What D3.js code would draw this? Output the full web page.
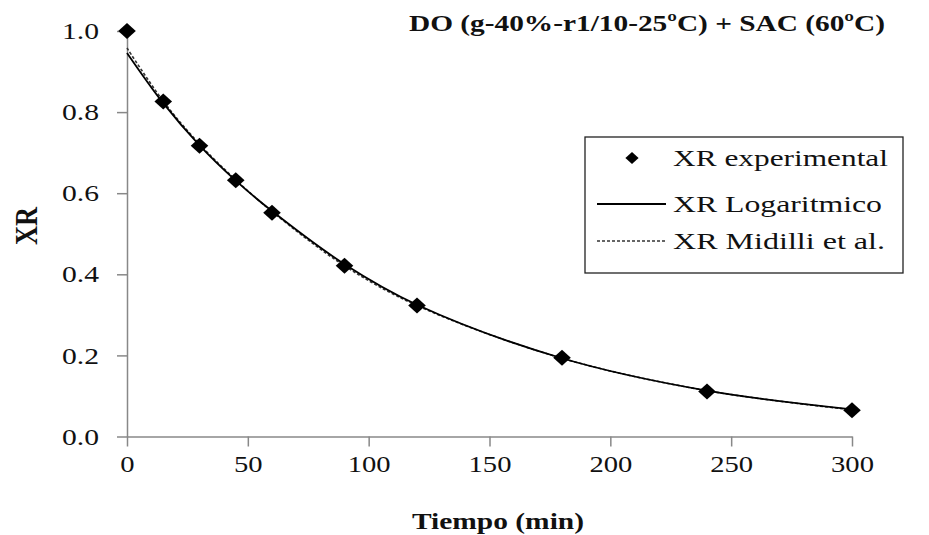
<!DOCTYPE html>
<html><head><meta charset="utf-8">
<script src="https://cdn.jsdelivr.net/npm/d3@7/dist/d3.min.js"></script>
<style>body{margin:0;background:#fff}svg{display:block}</style>
</head><body>
<svg id="c" width="929" height="535"></svg>
<script>
const times = [0, 15, 30, 45, 60, 90, 120, 180, 240, 300];
const xrExperimental = [1.0, 0.826, 0.717, 0.632, 0.552, 0.421, 0.323, 0.194, 0.111, 0.065];
const xrLogaritmico = [0.946, 0.822, 0.718, 0.631, 0.556, 0.425, 0.325, 0.193, 0.113, 0.067];
const xrMidilli = [0.958, 0.827, 0.721, 0.633, 0.555, 0.421, 0.323, 0.193, 0.113, 0.066];
const xTicks = [0, 50, 100, 150, 200, 250, 300];
const yTicks = [0.0, 0.2, 0.4, 0.6, 0.8, 1.0];
const titleText = "DO (g-40%-r1/10-25ºC)  + SAC (60ºC)";
const xLabel = "Tiempo (min)";
const yLabel = "XR";
const legendLabels = ["XR experimental", "XR Logaritmico", "XR Midilli et al."];

// pick an installed Times-like font
function hasFont(name) {
  const c = document.createElement("canvas").getContext("2d");
  const s = "XR experimental 0123456789";
  c.font = "40px monospace"; const a = c.measureText(s).width;
  c.font = `40px '${name}', monospace`; const b = c.measureText(s).width;
  return Math.abs(a - b) > 0.5;
}
const candidates = ["Liberation Serif", "Times New Roman", "Tinos", "Nimbus Roman", "DejaVu Serif"];
const serifName = candidates.find(hasFont) || "serif";
const serif = `'${serifName}', serif`;

const svg = d3.select("#c");
const x = d3.scaleLinear().domain([0, 300]).range([127, 852]);
const y = d3.scaleLinear().domain([0, 1]).range([436.5, 31]);
const labelWidth = s => s.split("").reduce((w, ch) => w + (ch === "." ? 8.4 : 14.3), 0);

// axes
const gx = svg.append("g").attr("transform", "translate(0,436.5)")
  .call(d3.axisBottom(x).tickValues(xTicks).tickFormat(d3.format("d")).tickSize(10).tickSizeOuter(0).tickPadding(8));
const gy = svg.append("g").attr("transform", "translate(127,0)")
  .call(d3.axisLeft(y).tickValues(yTicks).tickFormat(d3.format(".1f")).tickSize(10).tickSizeOuter(0).tickPadding(18));
[gx, gy].forEach(g => {
  g.select(".domain").attr("stroke", "#888").attr("stroke-width", 1.5);
  g.selectAll(".tick line").attr("stroke", "#888").attr("stroke-width", 1.5);
  g.selectAll(".tick text").attr("fill", "#111").attr("font-family", serif).attr("font-size", 24)
    .attr("textLength", function () { return labelWidth(this.textContent); })
    .attr("lengthAdjust", "spacingAndGlyphs");
});

// lines
const pts = arr => times.map((t, i) => [t, arr[i]]);
const line = d3.line().x(d => x(d[0])).y(d => y(d[1])).curve(d3.curveCatmullRom);
svg.append("path").attr("d", line(pts(xrMidilli))).attr("fill", "none")
  .attr("stroke", "#333").attr("stroke-width", 1.6).attr("stroke-dasharray", "3,2");
svg.append("path").attr("d", line(pts(xrLogaritmico))).attr("fill", "none")
  .attr("stroke", "#000").attr("stroke-width", 1.8);

// markers
const diamond = (s) => `M0,${-s}L${s*1.1},0L0,${s}L${-s*1.1},0Z`;
svg.append("g").selectAll("path").data(pts(xrExperimental)).join("path")
  .attr("transform", d => `translate(${x(d[0])},${y(d[1])})`)
  .attr("d", diamond(8)).attr("fill", "#000");

// title
svg.append("text").attr("x", 409).attr("y", 31).attr("font-family", serif)
  .attr("font-weight", "bold").attr("font-size", 24).attr("fill", "#111")
  .attr("textLength", 476).attr("lengthAdjust", "spacingAndGlyphs").text(titleText);

// x label
svg.append("text").attr("x", 412).attr("y", 529).attr("font-family", serif)
  .attr("font-weight", "bold").attr("font-size", 24).attr("fill", "#111")
  .attr("textLength", 172).attr("lengthAdjust", "spacingAndGlyphs").text(xLabel);

// y label
svg.append("text").attr("transform", "translate(37,226) scale(1.25,1) rotate(-90)")
  .attr("text-anchor", "middle").attr("font-family", serif)
  .attr("font-weight", "bold").attr("font-size", 25).attr("fill", "#111")
  .attr("textLength", 38).attr("lengthAdjust", "spacingAndGlyphs").text(yLabel);

// legend
const lg = svg.append("g");
lg.append("rect").attr("x", 585).attr("y", 137).attr("width", 318).attr("height", 136)
  .attr("fill", "#fff").attr("stroke", "#222").attr("stroke-width", 1.3);
const rowY = [158, 204, 241];
const textW = [215, 209, 212];
lg.append("path").attr("transform", `translate(632,${rowY[0]})`).attr("d", diamond(6)).attr("fill", "#000");
lg.append("line").attr("x1", 597).attr("x2", 666).attr("y1", rowY[1]).attr("y2", rowY[1])
  .attr("stroke", "#000").attr("stroke-width", 1.8);
lg.append("line").attr("x1", 597).attr("x2", 666).attr("y1", rowY[2]).attr("y2", rowY[2])
  .attr("stroke", "#333").attr("stroke-width", 1.6).attr("stroke-dasharray", "3,2");
legendLabels.forEach((t, i) => {
  lg.append("text").attr("x", 673).attr("y", rowY[i] + 8).attr("font-family", serif)
    .attr("font-size", 24).attr("fill", "#111")
    .attr("textLength", textW[i]).attr("lengthAdjust", "spacingAndGlyphs").text(t);
});
</script>
</body></html>
